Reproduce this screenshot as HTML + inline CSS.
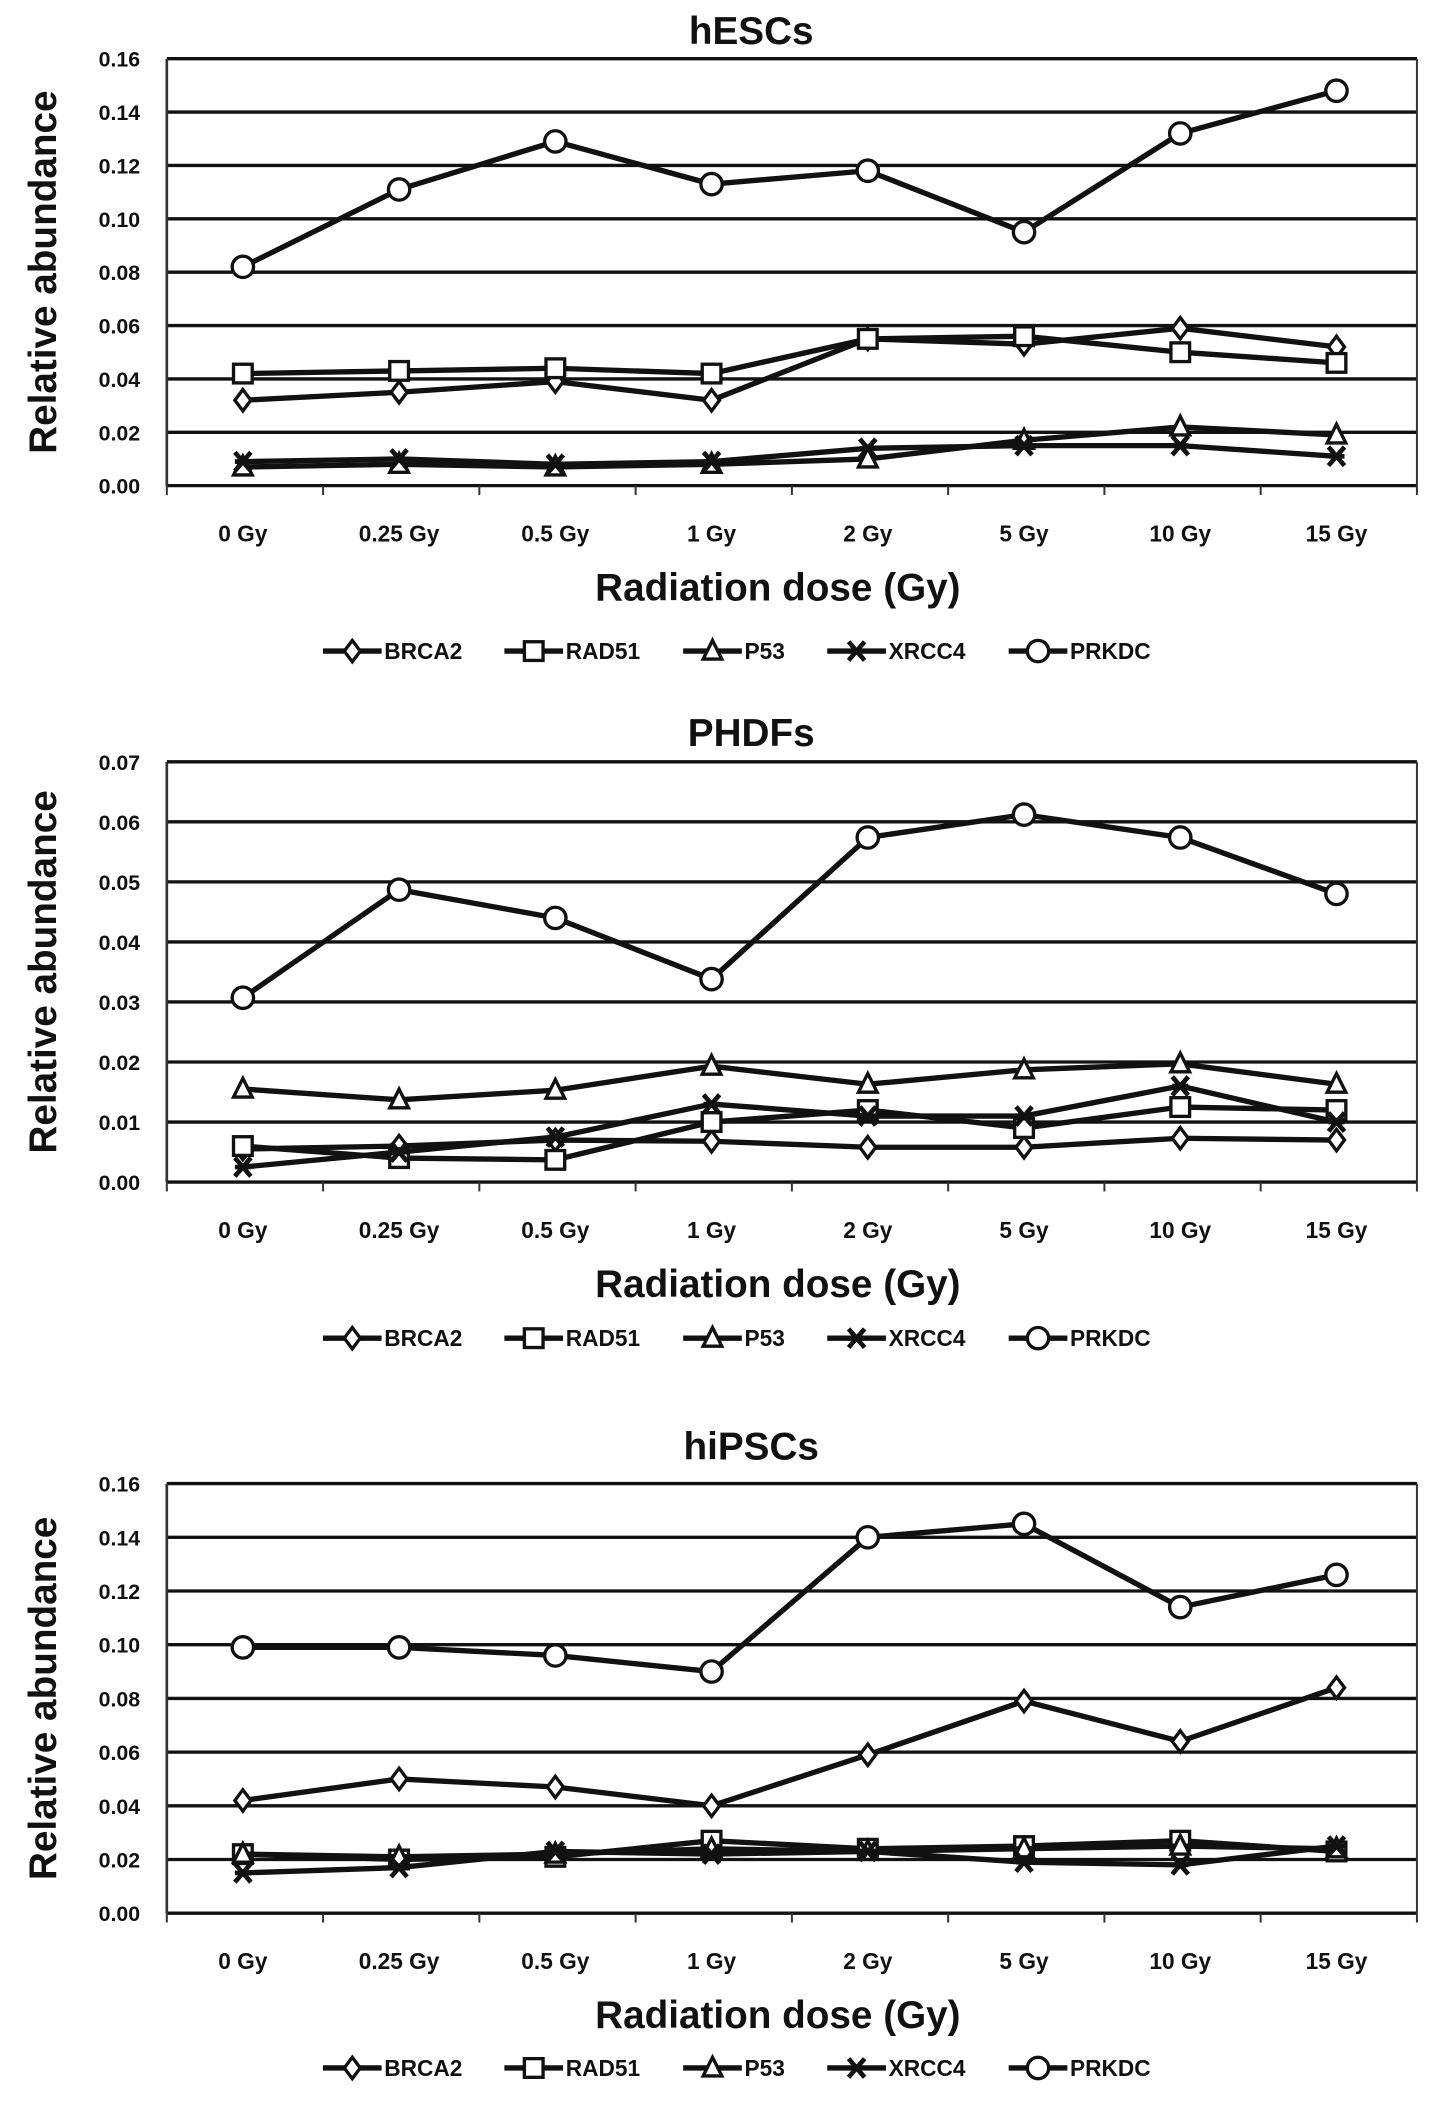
<!DOCTYPE html>
<html><head><meta charset="utf-8"><style>
html,body{margin:0;padding:0;background:#fff}
svg{display:block}
text{font-family:"Liberation Sans",sans-serif;font-weight:bold;fill:#111}
</style></head><body>
<svg id="fig" width="1441" height="2108" viewBox="0 0 1080 1580" xmlns="http://www.w3.org/2000/svg"></svg>
<script>
const categories=["0 Gy","0.25 Gy","0.5 Gy","1 Gy","2 Gy","5 Gy","10 Gy","15 Gy"];
const seriesNames=["BRCA2","RAD51","P53","XRCC4","PRKDC"];
const hescBRCA2=[.032,.035,.039,.032,.055,.053,.059,.052];
const hescRAD51=[.042,.043,.044,.042,.055,.056,.050,.046];
const hescP53=[.007,.008,.007,.008,.010,.017,.022,.019];
const hescXRCC4=[.009,.010,.008,.009,.014,.015,.015,.011];
const hescPRKDC=[.082,.111,.129,.113,.118,.095,.132,.148];
const hescTicks=["0.00","0.02","0.04","0.06","0.08","0.10","0.12","0.14","0.16"];
const phdfBRCA2=[.0055,.006,.007,.0068,.0058,.0058,.0073,.007];
const phdfRAD51=[.006,.004,.0037,.010,.012,.009,.0125,.012];
const phdfP53=[.0155,.0137,.0153,.0193,.0163,.0187,.0197,.0163];
const phdfXRCC4=[.0025,.005,.0075,.013,.011,.011,.016,.010];
const phdfPRKDC=[.0307,.0487,.044,.0338,.0574,.0612,.0574,.048];
const phdfTicks=["0.00","0.01","0.02","0.03","0.04","0.05","0.06","0.07"];
const hipsBRCA2=[.042,.050,.047,.040,.059,.079,.064,.084];
const hipsRAD51=[.022,.020,.021,.027,.024,.025,.027,.023];
const hipsP53=[.022,.021,.022,.024,.023,.024,.025,.024];
const hipsXRCC4=[.015,.017,.023,.022,.023,.019,.018,.025];
const hipsPRKDC=[.099,.099,.096,.090,.140,.145,.114,.126];
const hipsTicks=hescTicks;

const NS="http://www.w3.org/2000/svg";
const svg=document.getElementById('fig');
function mk(tag,attrs,parent){const e=document.createElementNS(NS,tag);for(const k in attrs)e.setAttribute(k,attrs[k]);(parent||svg).appendChild(e);return e;}

function marker(g,type,x,y){
  const st={fill:'#fff',stroke:'#111','stroke-width':2.5};
  let m;
  if(type===0){m=mk('polygon',Object.assign({points:`${x},${y-8} ${x+6},${y} ${x},${y+8} ${x-6},${y}`},st),g);}
  else if(type===1){m=mk('rect',Object.assign({x:x-7,y:y-7,width:14,height:14},st),g);}
  else if(type===2){m=mk('polygon',Object.assign({points:`${x},${y-8} ${x+7},${y+6} ${x-7},${y+6}`},st),g);}
  else if(type===3){m=mk('path',{d:`M${x-6},${y-7}L${x+6},${y+7}M${x+6},${y-7}L${x-6},${y+7}M${x-6},${y}L${x+6},${y}`,stroke:'#111','stroke-width':3.5,fill:'none'},g);}
  else {m=mk('circle',Object.assign({cx:x,cy:y,r:8},st),g);}
  return m;
}

function chart(cfg){
  const {name,title,top,bottom,max,ticks,data,titleY,legendY}=cfg;
  const g=mk('g',{});
  
  
  const left=125,right=1062;
  const xs=i=>182+i*117.1;
  const ys=v=>bottom-(v/max)*(bottom-top);
  const t=mk('text',{x:563,y:titleY,'text-anchor':'middle','font-size':29},g);t.textContent=title;
  
  ticks.forEach((lab,i)=>{
    const v=max*i/(ticks.length-1);const y=ys(v);
    const gl=mk('line',{x1:left,x2:right,y1:y,y2:y,stroke:'#111','stroke-width':2.5},g);
    
    const tl=mk('text',{x:105,y:y+6,'text-anchor':'end','font-size':16},g);tl.textContent=lab;
    
  });
  mk('line',{x1:left,x2:left,y1:top,y2:bottom,stroke:'#333','stroke-width':2},g);
  mk('line',{x1:right,x2:right,y1:top,y2:bottom,stroke:'#333','stroke-width':1.5},g);
  for(let i=0;i<=categories.length;i++){const x=left+i*(right-left)/categories.length;mk('line',{x1:x,x2:x,y1:bottom,y2:bottom+7,stroke:'#333','stroke-width':1.5},g);}
  categories.forEach((c,i)=>{const tx=mk('text',{x:xs(i),y:bottom+42,'text-anchor':'middle','font-size':17},g);tx.textContent=c;
    });
  const yt=mk('text',{x:0,y:0,'text-anchor':'middle','font-size':29,transform:`translate(42,${(top+bottom)/2}) rotate(-90)`},g);yt.textContent='Relative abundance';
  
  const xt=mk('text',{x:583,y:bottom+86,'text-anchor':'middle','font-size':29},g);xt.textContent='Radiation dose (Gy)';
  
  data.forEach((vals,s)=>{
    const sg=mk('g',{},g);
    
    
    const pl=mk('polyline',{points:vals.map((v,i)=>xs(i)+','+ys(v)).join(' '),fill:'none',stroke:'#111','stroke-width':4},sg);
    
    vals.forEach((v,i)=>{const m=marker(sg,s,xs(i),ys(v));
      });
  });
  const lg=mk('g',{},g);
  
  const lx=[242,378,512,620,756];
  seriesNames.forEach((n,s)=>{
    const eg=mk('g',{},lg);
    
    mk('line',{x1:lx[s],x2:lx[s]+44,y1:legendY,y2:legendY,stroke:'#111','stroke-width':4},eg);
    marker(eg,s,lx[s]+22,legendY);
    const tx=mk('text',{x:lx[s]+46,y:legendY+6,'font-size':17},eg);tx.textContent=n;
  });
}
chart({name:'hescs',title:'hESCs',top:44,bottom:364,max:0.16,ticks:hescTicks,data:[hescBRCA2,hescRAD51,hescP53,hescXRCC4,hescPRKDC],titleY:33,legendY:488});
chart({name:'phdfs',title:'PHDFs',top:571,bottom:886,max:0.07,ticks:phdfTicks,data:[phdfBRCA2,phdfRAD51,phdfP53,phdfXRCC4,phdfPRKDC],titleY:559,legendY:1003});
chart({name:'hipscs',title:'hiPSCs',top:1112,bottom:1434,max:0.16,ticks:hipsTicks,data:[hipsBRCA2,hipsRAD51,hipsP53,hipsXRCC4,hipsPRKDC],titleY:1094,legendY:1550});
</script>
</body></html>
